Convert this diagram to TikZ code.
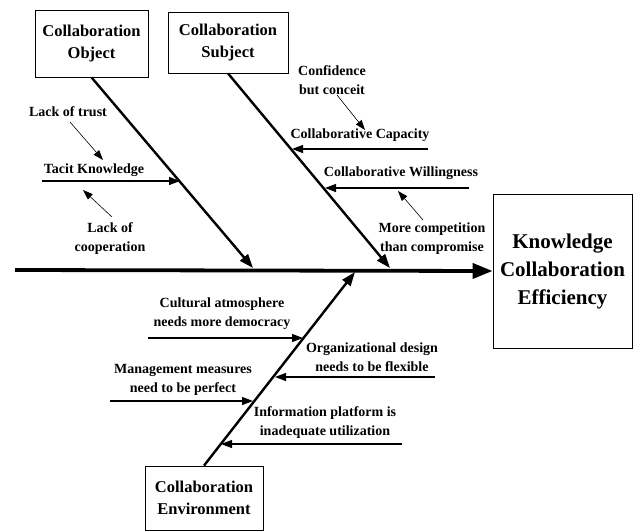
\documentclass[tikz,border=0pt]{standalone}
\usepackage{fontspec}
\setmainfont{Liberation Serif}
\usetikzlibrary{arrows.meta}
\newcommand{\LabelF}{\fontsize{14}{19}\selectfont\bfseries}
\newcommand{\BoxF}{\fontsize{16.5}{22}\selectfont\bfseries}
\newcommand{\HeadF}{\fontsize{21}{28}\selectfont\bfseries}
\newcommand{\subcause}[3]{% name, tail, tip
  \coordinate (#1tail) at (#2);
  \coordinate (#1tip) at (#3);
  \draw[subarrow] (#1tail) -- (#1tip);
}
\tikzset{
  causebox/.style={draw, line width=0.8pt, align=center, font=\BoxF, inner sep=0pt},
  lbl/.style={align=center, font=\LabelF, inner sep=0pt},
  spine/.style={line width=3.8pt, -{Triangle[length=20pt,width=15pt]}},
  bone/.style={line width=2.4pt, -{Triangle[length=14pt,width=10pt]}},
  subarrow/.style={line width=1.2pt, -{Triangle[length=11pt,width=8pt]}},
  hint/.style={line width=0.6pt, -{Triangle[length=10pt,width=7pt]}},
}

\begin{document}
\begin{tikzpicture}[x=1pt,y=-1pt]
\useasboundingbox (0,0) rectangle (637,530);

% head and main causes
\node[causebox, minimum width=139pt, minimum height=154pt, font=\HeadF] (know) at (562.5,271)
  {Knowledge\\Collaboration\\Efficiency};
\node[causebox, minimum width=113pt, minimum height=67pt] (obj) at (91.5,43.5) {Collaboration\\Object};
\node[causebox, minimum width=120pt, minimum height=61pt] (subj) at (228,42.5) {Collaboration\\Subject};
\node[causebox, minimum width=118pt, minimum height=64pt] (env) at (204,498) {Collaboration\\Environment};

% spine and bones
\coordinate (spinestart) at (15,270);
\coordinate (objhit) at (253,268);
\coordinate (subjhit) at (390,268);
\coordinate (envhit) at (355,272);
\draw[spine] (spinestart) -- (know.west);
\draw[bone] (obj.south) -- (objhit);
\draw[bone] (subj.south) -- (subjhit);
\draw[bone] (env.north) -- (envhit);

% sub-causes
\subcause{tacit}{42,181}{180,181}
\subcause{capa}{428,149}{292,149}
\subcause{will}{469,188}{325,188}
\subcause{cult}{148,338}{303,338}
\subcause{org}{435,377}{275,377}
\subcause{mgmt}{110,401}{253,401}
\subcause{info}{402,444}{221,444}

% labels
\node[lbl] (tacitlbl) at (94,170) {Tacit Knowledge};
\node[lbl] (capalbl) at (360,135) {Collaborative Capacity};
\node[lbl] (willlbl) at (401,173) {Collaborative Willingness};
\node[lbl] (cultlbl) at (222,314) {Cultural atmosphere\\needs more democracy};
\node[lbl] (orglbl) at (372,357) {Organizational design\\needs to be flexible};
\node[lbl] (mgmtlbl) at (183,380) {Management measures\\need to be perfect};
\node[lbl] (infolbl) at (325,423) {Information platform is\\inadequate utilization};

% reasons
\node[lbl] (trust) at (68,112) {Lack of trust};
\node[lbl] (coop) at (110,239) {Lack of\\cooperation};
\node[lbl] (conceit) at (332,80) {Confidence\\but conceit};
\node[lbl] (compet) at (432,239) {More competition\\than compromise};
\coordinate (trustfrom) at (70,122);
\coordinate (trustto) at (103,160);
\coordinate (coopfrom) at (112,217);
\coordinate (coopto) at (83,190);
\coordinate (conceitfrom) at (337,95);
\coordinate (conceitto) at (365,130);
\coordinate (competfrom) at (423,220);
\coordinate (competto) at (398,191);
\draw[hint] (trustfrom) -- (trustto);
\draw[hint] (coopfrom) -- (coopto);
\draw[hint] (conceitfrom) -- (conceitto);
\draw[hint] (competfrom) -- (competto);
\end{tikzpicture}
\end{document}
